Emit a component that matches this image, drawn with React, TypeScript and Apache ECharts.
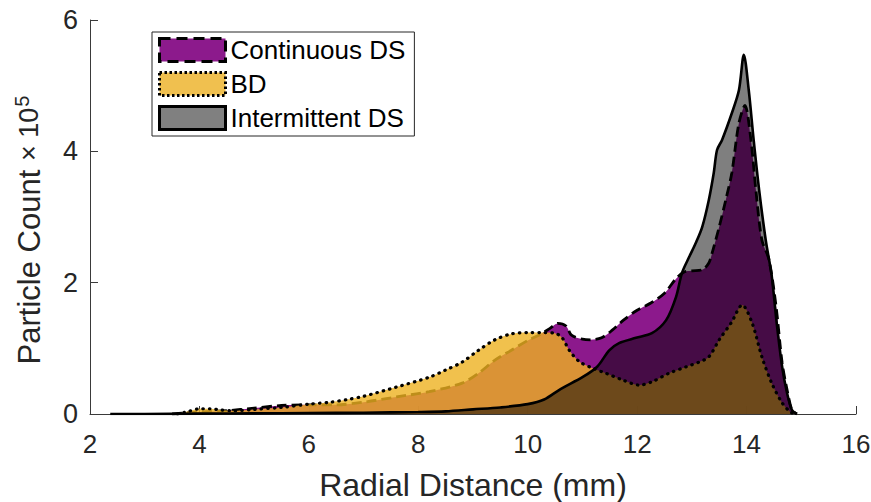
import React, { useEffect, useRef } from 'react';
import * as echarts from 'echarts';

const FONT = '"Liberation Sans", Arial, Helvetica, sans-serif';

// Continuous DS (purple, dashed)
const contX = [3.5, 4.0, 4.5, 5.0, 5.5, 6.0, 6.5, 7.0, 7.6, 8.2, 8.8, 9.1, 9.4, 9.7, 10.0, 10.2, 10.4, 10.55, 10.7, 10.8, 11.0, 11.15, 11.35, 11.55, 11.75, 12.0, 12.25, 12.5, 12.7, 12.85, 13.0, 13.2, 13.31, 13.37, 13.5, 13.62, 13.73, 13.86, 13.97, 14.08, 14.17, 14.28, 14.41, 14.54, 14.65, 14.74, 14.83, 14.92];
const contY = [0.0, 0.03, 0.05, 0.09, 0.13, 0.14, 0.14, 0.18, 0.26, 0.34, 0.47, 0.62, 0.82, 0.97, 1.12, 1.2, 1.3, 1.38, 1.34, 1.2, 1.14, 1.13, 1.16, 1.28, 1.43, 1.58, 1.69, 1.84, 2.05, 2.16, 2.18, 2.2, 2.3, 2.45, 2.85, 3.26, 3.67, 4.43, 4.7, 4.17, 3.41, 2.65, 2.35, 1.63, 0.78, 0.37, 0.06, 0.0];

// BD (yellow, dotted)
const bdX = [3.6, 3.8, 4.0, 4.2, 4.4, 4.6, 5.0, 5.5, 6.0, 6.4, 6.7, 7.0, 7.6, 8.2, 8.5, 8.8, 9.1, 9.4, 9.7, 10.0, 10.3, 10.5, 10.63, 10.76, 10.94, 11.18, 11.43, 11.73, 12.04, 12.27, 12.58, 12.9, 13.13, 13.31, 13.5, 13.72, 13.92, 14.1, 14.28, 14.46, 14.65, 14.8, 14.9];
const bdY = [0.0, 0.04, 0.08, 0.08, 0.06, 0.05, 0.07, 0.1, 0.15, 0.18, 0.22, 0.27, 0.41, 0.56, 0.67, 0.79, 0.97, 1.13, 1.22, 1.24, 1.24, 1.23, 1.16, 0.97, 0.8, 0.7, 0.62, 0.52, 0.44, 0.49, 0.62, 0.72, 0.79, 0.87, 1.13, 1.39, 1.66, 1.39, 0.87, 0.47, 0.17, 0.03, 0.0];

// Intermittent DS (gray, solid)
const intX = [2.37, 3.0, 4.0, 5.0, 6.0, 7.0, 8.0, 8.5, 9.0, 9.5, 10.0, 10.3, 10.6, 11.0, 11.27, 11.49, 11.67, 11.98, 12.27, 12.53, 12.71, 12.82, 12.95, 13.08, 13.19, 13.31, 13.4, 13.46, 13.55, 13.73, 13.86, 13.95, 14.04, 14.13, 14.23, 14.35, 14.46, 14.55, 14.65, 14.74, 14.83, 14.92];
const intY = [0.0, 0.0, 0.005, 0.01, 0.015, 0.02, 0.03, 0.04, 0.07, 0.1, 0.15, 0.22, 0.38, 0.56, 0.72, 0.97, 1.08, 1.16, 1.23, 1.43, 1.78, 2.15, 2.39, 2.62, 2.85, 3.26, 3.67, 4.02, 4.17, 4.58, 4.93, 5.47, 4.93, 4.17, 3.41, 2.65, 2.1, 1.39, 0.72, 0.32, 0.06, 0.0];

const seriesNames = ['Continuous DS', 'BD', 'Intermittent DS'];

const zip = (xs: number[], ys: number[]) => xs.map((x, i) => [x, ys[i]]);

const AXIS_COLOR = '#3a3a3a';

export default function App() {
  const ref = useRef<HTMLDivElement>(null);
  useEffect(() => {
    document.body.style.margin = '0';
    const chart = echarts.init(ref.current!, null, { renderer: 'svg' });
    const option: any = {
      animation: false,
      backgroundColor: '#fff',
      grid: { left: 90, top: 20, right: 15, bottom: 88, containLabel: false, outerBoundsMode: 'none' },
      legend: {
        orient: 'vertical',
        left: 152,
        top: 32,
        padding: [5, 9, 5, 6],
        itemGap: 8,
        itemWidth: 66,
        itemHeight: 23,
        borderColor: '#262626',
        borderWidth: 1,
        backgroundColor: '#fff',
        selectedMode: false,
        z: 10,
        textStyle: { fontSize: 26, fontFamily: FONT, color: '#000' },
        data: [
          { name: seriesNames[0], icon: 'rect', itemStyle: { color: '#8c1a8c', borderColor: '#000', borderWidth: 3, borderType: [11, 6] } },
          { name: seriesNames[1], icon: 'rect', itemStyle: { color: '#f0c04f', borderColor: '#000', borderWidth: 3, borderType: [2.5, 2.5] } },
          { name: seriesNames[2], icon: 'rect', itemStyle: { color: '#808080', borderColor: '#000', borderWidth: 3, borderType: 'solid' } },
        ],
      },
      xAxis: {
        type: 'value',
        min: 2,
        max: 16,
        interval: 2,
        name: 'Radial Distance (mm)',
        nameLocation: 'middle',
        nameGap: 55,
        nameTextStyle: { fontSize: 32, fontFamily: FONT, color: '#262626' },
        axisLine: { show: true, lineStyle: { color: AXIS_COLOR, width: 1 } },
        axisTick: { show: true, inside: true, length: 8, lineStyle: { color: AXIS_COLOR } },
        axisLabel: { fontSize: 26, fontFamily: FONT, color: '#262626', margin: 17 },
        splitLine: { show: false },
      },
      yAxis: {
        type: 'value',
        min: 0,
        max: 6,
        interval: 2,
        name: 'Particle Count {x|× 10}{s|5}',
        nameLocation: 'middle',
        nameGap: 44,
        nameRotate: 90,
        nameTextStyle: {
          fontSize: 31,
          fontFamily: FONT,
          color: '#262626',
          padding: [0, 26, 0, 0],
          rich: {
            x: { fontSize: 27, fontFamily: FONT, color: '#262626' },
            s: { fontSize: 20, fontFamily: FONT, color: '#262626', verticalAlign: 'top', padding: [0, 0, 14, 1] },
          },
        },
        axisLine: { show: true, lineStyle: { color: AXIS_COLOR, width: 1 } },
        axisTick: { show: true, inside: true, length: 8, lineStyle: { color: AXIS_COLOR } },
        axisLabel: { fontSize: 27, fontFamily: FONT, color: '#262626', margin: 12 },
        splitLine: { show: false },
      },
      series: [
        {
          name: seriesNames[0],
          type: 'line',
          z: 2,
          data: zip(contX, contY),
          symbol: 'none',
          smooth: 0.3,
          itemStyle: { color: '#8c1a8c' },
          lineStyle: { color: '#000', width: 2.8, type: [10, 5] },
          areaStyle: { color: 'rgb(128,0,128)', opacity: 0.9 },
        },
        {
          name: seriesNames[1],
          type: 'line',
          z: 3,
          data: zip(bdX, bdY),
          symbol: 'none',
          smooth: 0.3,
          itemStyle: { color: '#f0c04f' },
          lineStyle: { color: '#000', width: 3.2, type: [0.5, 6], cap: 'round' },
          areaStyle: { color: 'rgb(237,177,32)', opacity: 0.8 },
        },
        {
          name: seriesNames[2],
          type: 'line',
          z: 4,
          data: zip(intX, intY),
          symbol: 'none',
          smooth: 0.3,
          itemStyle: { color: '#808080' },
          lineStyle: { color: '#000', width: 2.6, type: 'solid' },
          areaStyle: { color: '#000', opacity: 0.5 },
        },
      ],
    };
    chart.setOption(option);
    return () => chart.dispose();
  }, []);
  return <div ref={ref} style={{ width: 871, height: 502, position: 'absolute', left: 0, top: 0 }} />;
}
